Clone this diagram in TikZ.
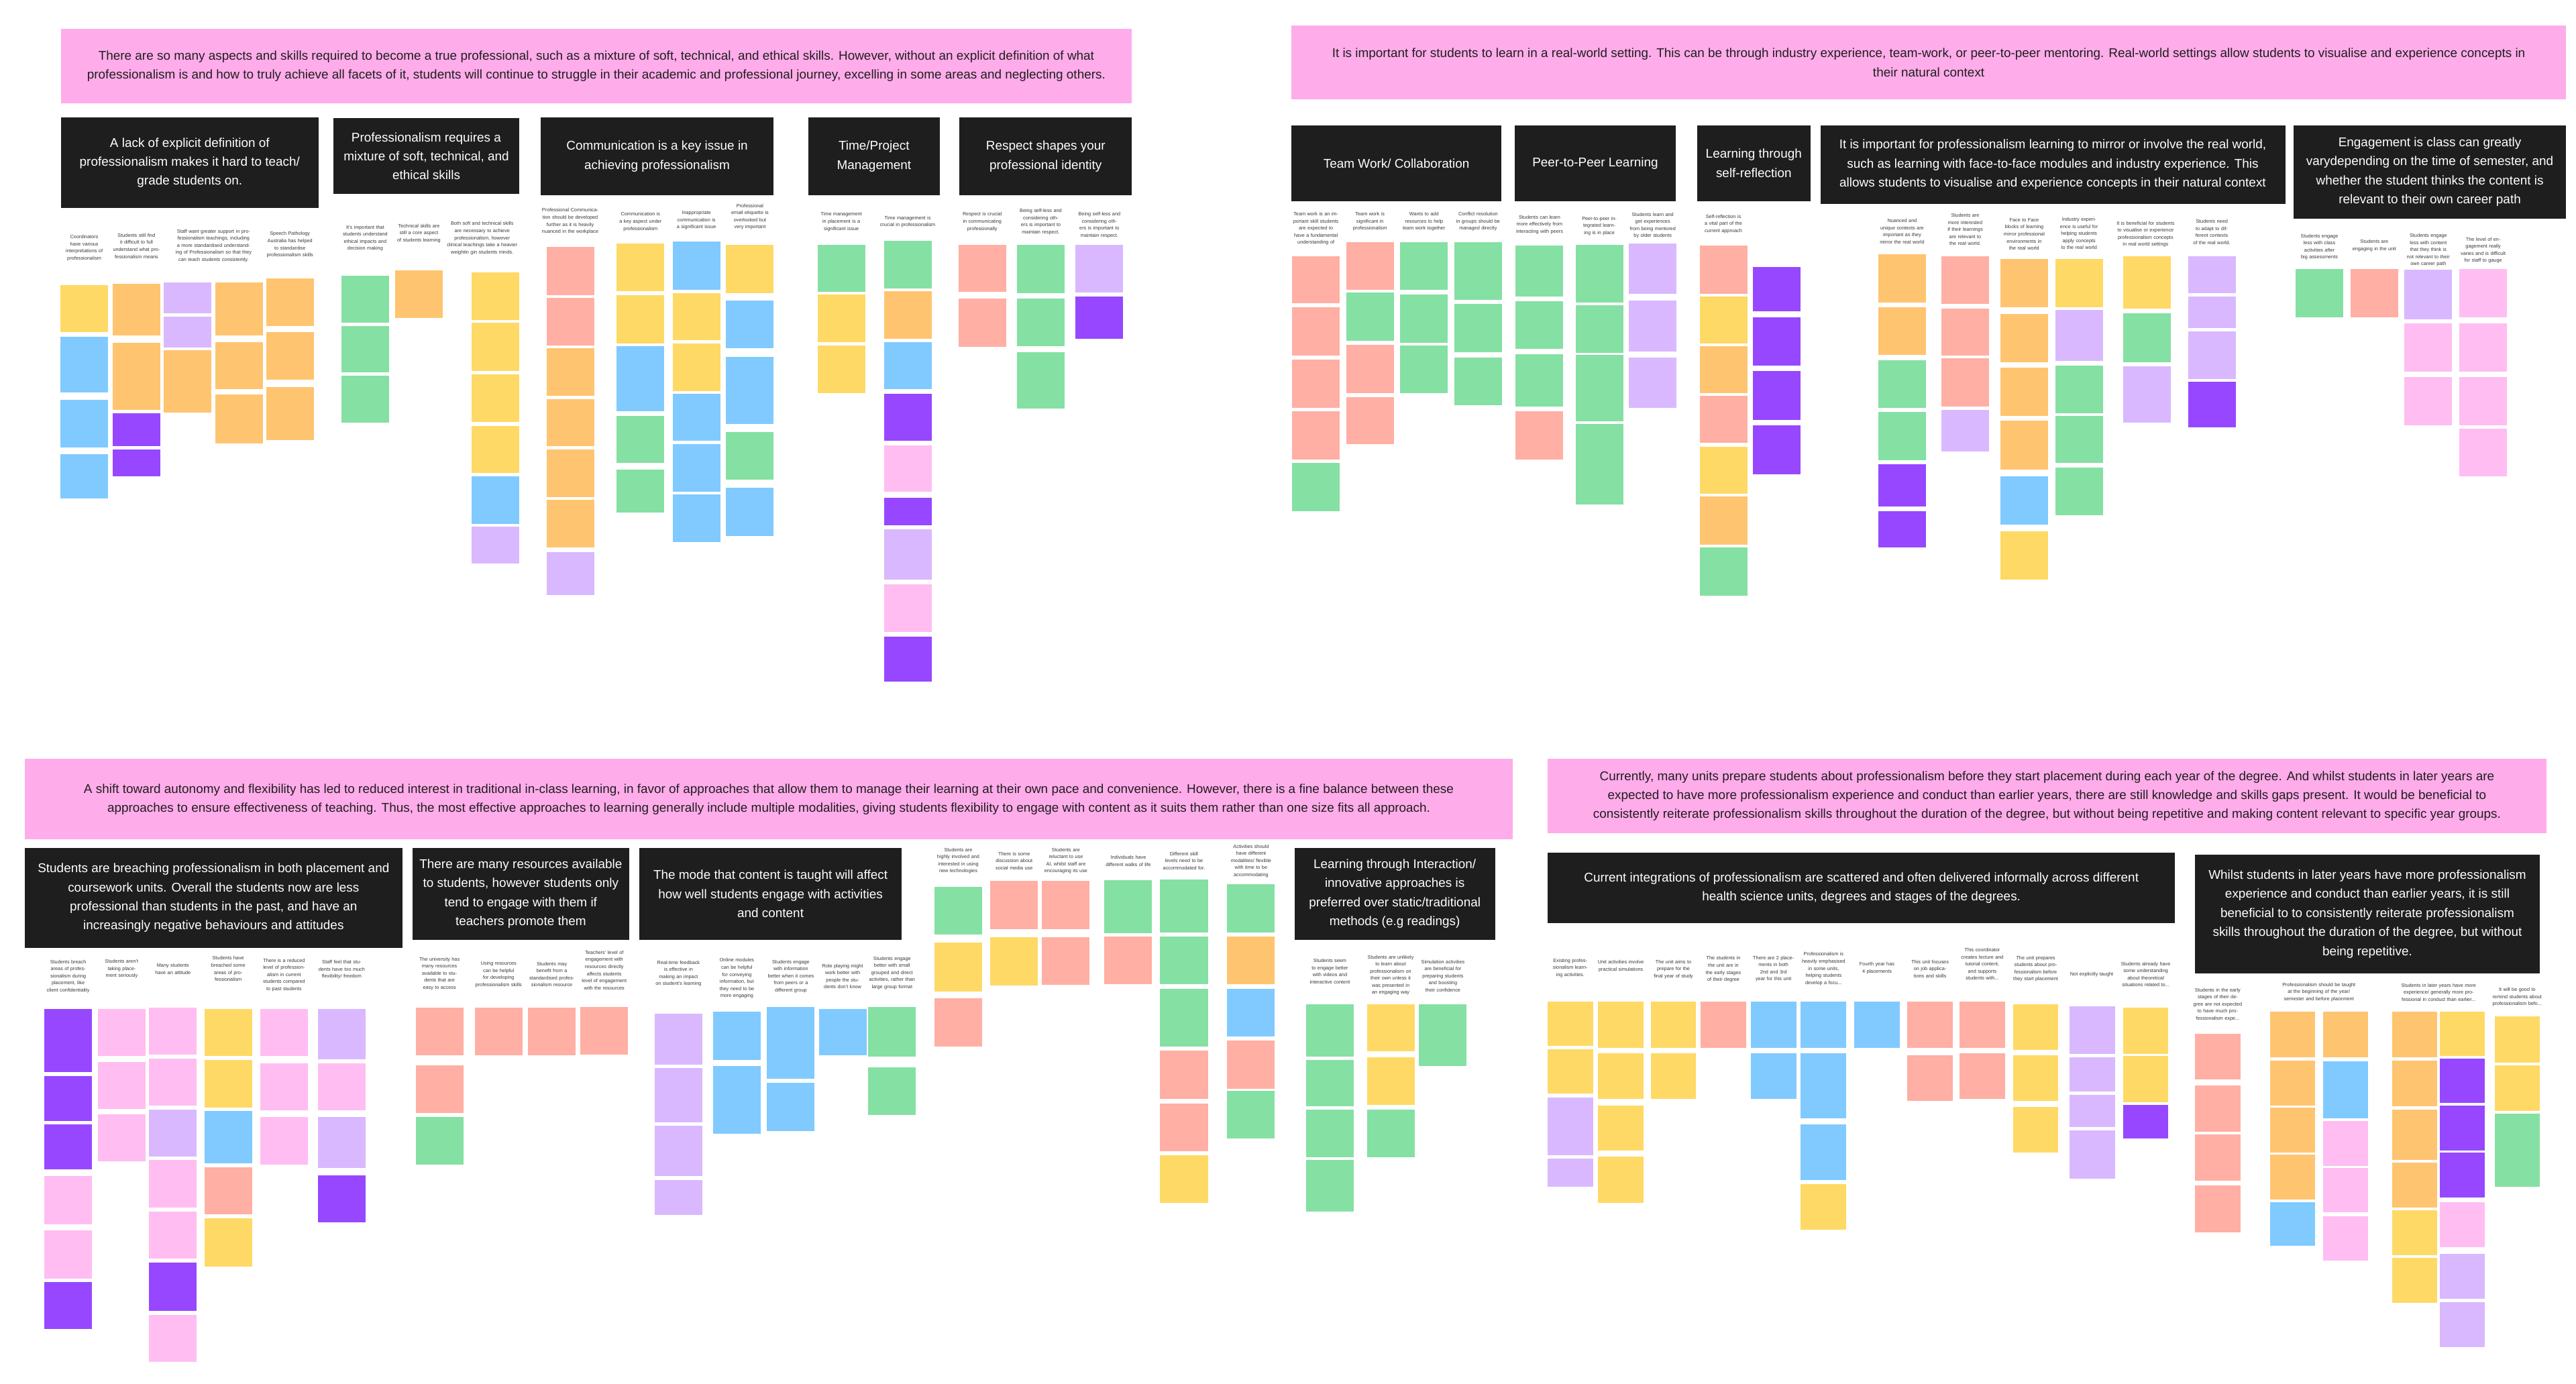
\documentclass[tikz,border=0pt]{standalone}
\usepackage{fontspec}
\setmainfont{Liberation Sans}

\definecolor{yel}{HTML}{FFD966}
\definecolor{ora}{HTML}{FFC470}
\definecolor{blu}{HTML}{80CAFF}
\definecolor{grn}{HTML}{85E0A3}
\definecolor{sal}{HTML}{FFAFA3}
\definecolor{lpu}{HTML}{D9B8FF}
\definecolor{pur}{HTML}{9747FF}
\definecolor{pnk}{HTML}{FFBDF2}
\definecolor{bannerpink}{HTML}{FFACEA}
\definecolor{headblack}{HTML}{1E1E1E}

\tikzset{
  banner/.style={fill=bannerpink, text=headblack, align=center, inner sep=0pt,
    font=\fontsize{4.4}{6.6}\selectfont},
  theme/.style={fill=headblack, text=white, align=center, inner sep=0pt,
    font=\fontsize{4.4}{6.6}\selectfont},
  lbl/.style={text=black!78, align=center, inner sep=0pt, text width=0.58cm,
    font=\fontsize{1.7}{2.45}\selectfont},
}

\begin{document}
\begin{tikzpicture}[x=0.02cm, y=-0.02cm]

	\useasboundingbox (0,0) rectangle (1568,842);
	\fill[white] (0,0) rectangle (1568,842);

	% top left: banner and themes
	\node[banner, minimum width=13.04cm, minimum height=0.908cm] (tlban) at (363,40.3)
	{There are so many aspects and skills required to become a true professional, such as a mixture of soft, technical, and ethical skills. However, without an explicit definition of what\\
	professionalism is and how to truly achieve all facets of it, students will continue to struggle in their academic and professional journey, excelling in some areas and neglecting others.};
	\node[theme, minimum width=3.14cm, minimum height=1.102cm] (tlh1) at (115.5,99.05)
	{A lack of explicit definition of\\ professionalism makes it hard to teach/\\ grade students on.};
	\node[theme, minimum width=2.26cm, minimum height=0.92cm] (tlh2) at (259.5,95)
	{Professionalism requires a\\ mixture of soft, technical, and\\ ethical skills};
	\node[theme, minimum width=2.84cm, minimum height=0.95cm] (tlh3) at (400,95.25)
	{Communication is a key issue in\\ achieving professionalism};
	\node[theme, minimum width=1.6cm, minimum height=0.95cm] (tlh4) at (532,95.25)
	{Time/Project\\ Management};
	\node[theme, minimum width=2.1cm, minimum height=0.95cm] (tlh5) at (636.5,95.25)
	{Respect shapes your\\ professional identity};

	% top left: cluster labels
	\node[lbl] (tla) at (51.3,151) {Coordinators have various interpretations of professionalism};
	\node[lbl] (tlb) at (83.1,149.7) {Students still find it difficult to full understand what professionalism means};
	\node[lbl, text width=1.12cm] (tlc) at (130,149.6) {Staff want greater support in professionalism teachings, including a more standardised understanding of Professionalism so that they can teach students consistently.};
	\node[lbl] (tle) at (176.5,149) {Speech Pathology Australia has helped to standardise professionalism skills};
	\node[lbl] (tlf) at (222.3,145) {It's important that students understand ethical impacts and decision making};
	\node[lbl] (tlg) at (255,142) {Technical skills are still a core aspect of students learning};
	\node[lbl, text width=0.88cm] (tlh) at (293.5,145) {Both soft and technical skills are necessary to achieve professionalism, however clinical teachings take a heavier weightin gin students minds.};
	\node[lbl, text width=0.8cm] (tli) at (347.1,134.7) {Professional Communication should be developed further as it is heavily nuanced in the workplace};
	\node[lbl] (tlj) at (389.9,135) {Communication is a key aspect under professionalism};
	\node[lbl] (tlk) at (423.9,134) {Inappropriate communication is a significant issue};
	\node[lbl] (tll) at (456.5,132) {Professional email etiquette is overlooked but very important};
	\node[lbl, text width=0.72cm] (tlm) at (512.1,135) {Time management in placement is a significant issue};
	\node[lbl, text width=0.68cm] (tln) at (552.5,135) {Time management is crucial in professionalism};
	\node[lbl] (tlo) at (597.9,135) {Respect is crucial in communicating professionally};
	\node[lbl, text width=0.64cm] (tlp) at (633.5,135) {Being self-less and considering others is important to maintain respect.};
	\node[lbl, text width=0.64cm] (tlq) at (669.2,137) {Being self-less and considering others is important to maintain respect.};

	% top left: stickies
	\foreach \x/\c/\ya/\yb in {
		36.8/yel/173.5/202.3, 36.8/blu/204.9/238.9, 36.8/blu/243.3/272.2, 36.8/blu/276.4/303.4,
		68.6/ora/172.9/204.3, 68.6/ora/208.7/249.5, 68.6/pur/251.4/271.6, 68.6/pur/273.5/289.9,
		99.6/lpu/172.1/190.8, 99.6/lpu/192.7/211.4, 99.6/ora/213.3/251.0,
		131/ora/172.1/204.3, 131/ora/208.1/237, 131/ora/239.9/269.7,
		162/ora/169.3/198.5, 162/ora/202.3/231.2, 162/ora/235.6/267.8,
		207.8/grn/167.7/196.6, 207.8/grn/198.3/226.8, 207.8/grn/228.5/257.2,
		240.5/ora/164.4/193.7,
		287.2/yel/165.8/194.7, 287.2/yel/196.6/226, 287.2/yel/227.7/256.8, 287.2/yel/259.1/288, 287.2/blu/289.9/318.7, 287.2/lpu/320.7/342.8,
		332.6/sal/150.4/179.6, 332.6/sal/181.2/210.4, 332.6/ora/212/240.8, 332.6/ora/242.8/271.6, 332.6/ora/273.5/302.4, 332.6/ora/304.3/333.2, 332.6/lpu/336/362,
		375.4/yel/148.1/177.3, 375.4/yel/179.8/209.1, 375.4/blu/210.6/250.4, 375.4/grn/253/281.8, 375.4/grn/285.7/312,
		409.4/blu/147.1/176.4, 409.4/yel/178.3/207.2, 409.4/yel/209.1/237.9, 409.4/blu/239.5/268.3, 409.4/blu/270.3/299.1, 409.4/blu/301.1/329.9,
		442/yel/148.9/178.3, 442/blu/183.1/212, 442/blu/217.2/258.1, 442/grn/262.9/291.8, 442/blu/297/326.1,
		497.6/grn/148.9/177.7, 497.6/yel/179.3/208.1, 497.6/yel/210.4/239.3,
		538/grn/146.5/175.4, 538/ora/177.3/206.2, 538/blu/208.1/237, 538/pur/239.5/268.3, 538/pnk/271.2/299.5, 538/pur/302.8/319.7, 538/lpu/322/352.8, 538/pnk/355.7/384.5, 538/pur/387.4/414.9,
		583.4/sal/148.9/177.7, 583.4/sal/181.8/211,
		619/grn/148.9/178.3, 619/grn/181.8/210.6, 619/grn/214.3/248.5,
		654.7/lpu/148.9/177.9, 654.7/pur/180.6/206.2}
	\fill[\c] (\x,\ya) rectangle (\x+29,\yb);

	% top right: banner and themes
	\node[banner, minimum width=15.52cm, minimum height=0.9cm] (trban) at (1174,38.1)
	{It is important for students to learn in a real-world setting. This can be through industry experience, team-work, or peer-to-peer mentoring. Real-world settings allow students to visualise and experience concepts in\\
	their natural context};
	\node[theme, minimum width=2.56cm, minimum height=0.926cm] (trh1) at (850,99.35)
	{Team Work/ Collaboration};
	\node[theme, minimum width=1.96cm, minimum height=0.926cm] (trh2) at (971,99.35)
	{Peer-to-Peer Learning};
	\node[theme, minimum width=1.38cm, minimum height=0.926cm] (trh3) at (1067.5,99.35)
	{Learning through\\ self-reflection};
	\node[theme, minimum width=5.66cm, minimum height=0.956cm] (trh4) at (1249.5,100.1)
	{It is important for professionalism learning to mirror or involve the real world,\\ such as learning with face-to-face modules and industry experience. This\\ allows students to visualise and experience concepts in their natural context};
	\node[theme, minimum width=3.32cm, minimum height=1.136cm] (trh5) at (1479,104.6)
	{Engagement is class can greatly\\ varydepending on the time of semester, and\\ whether the student thinks the content is\\ relevant to their own career path};

	% top right: cluster labels
	\node[lbl] (tr1) at (801,139.2) {Team work is an important skill students are expected to have a fundamental understanding of};
	\node[lbl] (tr2) at (833.9,134.8) {Team work is significant in professionalism};
	\node[lbl] (tr3) at (866.8,134.8) {Wants to add resources to help team work together};
	\node[lbl] (tr4) at (899.7,134.8) {Conflict resolution in groups should be managed directly};
	\node[lbl] (tr5) at (937.1,136.7) {Students can learn more effectively from interacting with peers};
	\node[lbl] (tr6) at (973.5,137.5) {Peer-to-peer integrated learning is in place};
	\node[lbl] (tr7) at (1006,137.2) {Students learn and get experiences from being mentored by older students};
	\node[lbl] (tr8) at (1049,136.4) {Self-reflection is a vital part of the current approach};
	\node[lbl] (tr10) at (1157.8,140.8) {Nuanced and unique contexts are important as they mirror the real world};
	\node[lbl] (tr11) at (1196.2,139.7) {Students are more interested if their learnings are relevant to the real world.};
	\node[lbl] (tr12) at (1232.1,142.5) {Face to Face blocks of learning mirror professional environments in the real world};
	\node[lbl] (tr13) at (1265.5,142.1) {Industry experience is useful for helping students apply concepts to the real world};
	\node[lbl, text width=0.76cm] (tr14) at (1306,142.5) {It is beneficial for students to visualise or experience professionalism concepts in real world settings};
	\node[lbl] (tr15) at (1346.3,141.3) {Students need to adapt to different contexts of the real world.};
	\node[lbl] (tr16) at (1411.8,150.3) {Students engage less with class activities after big assessments};
	\node[lbl] (tr17) at (1445.2,149.5) {Students are engaging in the unit};
	\node[lbl] (tr18) at (1478.1,152.3) {Students engage less with content that they think is not relevant to their own career path};
	\node[lbl] (tr19) at (1511.5,152.3) {The level of engagement really varies and is difficult for staff to gauge};

	% top right: stickies
	\foreach \x/\c/\ya/\yb in {
		786.5/sal/156/184.6, 786.5/sal/187.1/216.5, 786.5/sal/219/248.4, 786.5/sal/250.5/279.5, 786.5/grn/281.9/311.3,
		819.4/sal/147.4/176.5, 819.4/grn/178.1/207.5, 819.4/sal/210/239.4, 819.4/sal/241.9/270.5,
		852.3/grn/147.4/176.5, 852.3/grn/179.4/208.8, 852.3/grn/210.3/239.4,
		885.2/grn/147.4/182.5, 885.2/grn/185.1/214.5, 885.2/grn/217.7/246.8,
		922.6/grn/149.5/180.5, 922.6/grn/183.5/212.4, 922.6/grn/215.7/247.6, 922.6/sal/250.4/279.5,
		959/grn/149.2/184.2, 959/grn/185.6/214.9, 959/grn/216.2/256.6, 959/grn/258/306.9,
		991.5/lpu/148.2/178.9, 991.5/lpu/183/214.1, 991.5/lpu/217.8/248.4,
		1034.5/sal/149.5/178.9, 1034.5/yel/180.3/209.2, 1034.5/ora/210.6/239.4, 1034.5/sal/240.8/269.6, 1034.5/yel/271.8/300.7, 1034.5/ora/302.3/331.5, 1034.5/grn/333.1/362.5,
		1067/pur/162.6/189.5, 1067/pur/193.1/222.6, 1067/pur/226/255.8, 1067/pur/259/288.8,
		1143.3/ora/154.7/184.3, 1143.3/ora/187.1/216.2, 1143.3/grn/219.3/248.4, 1143.3/grn/250.8/280, 1143.3/pur/282.7/308.4, 1143.3/pur/311.3/333.1,
		1181.7/sal/156/185, 1181.7/sal/187.9/216.6, 1181.7/sal/218.1/247.6, 1181.7/lpu/249.5/274.6,
		1217.6/ora/157.7/187.1, 1217.6/ora/191.2/220.3, 1217.6/ora/223.9/253.3, 1217.6/ora/256.2/286, 1217.6/blu/290.1/319.5, 1217.6/yel/323.3/352.7,
		1251/yel/157.7/187.1, 1251/lpu/188.7/219.8, 1251/grn/222.6/251.7, 1251/grn/253.1/281.9, 1251/grn/284.4/313.5,
		1292.5/yel/156/187.9, 1292.5/grn/190.7/220.3, 1292.5/lpu/223.1/257.4,
		1332/lpu/156/178.6, 1332/lpu/180.5/199.7, 1332/lpu/201.8/230.9, 1332/pur/232.5/260.2,
		1397.3/grn/163.7/193.1,
		1430.7/sal/163.7/193.1,
		1463.6/lpu/164.2/194.4, 1463.6/pnk/196.9/226.3, 1463.6/pnk/229.6/259,
		1497/pnk/163.7/193.1, 1497/pnk/196.9/226.3, 1497/pnk/229.6/259, 1497/pnk/261.1/290.1}
	\fill[\c] (\x,\ya) rectangle (\x+29,\yb);

	% bottom left: banner and themes
	\node[banner, minimum width=18.12cm, minimum height=0.98cm] (blban) at (468,486.5)
	{A shift toward autonomy and flexibility has led to reduced interest in traditional in-class learning, in favor of approaches that allow them to manage their learning at their own pace and convenience. However, there is a fine balance between these\\
	approaches to ensure effectiveness of teaching. Thus, the most effective approaches to learning generally include multiple modalities, giving students flexibility to engage with content as it suits them rather than one size fits all approach.};
	\node[theme, minimum width=4.6cm, minimum height=1.22cm] (blh1) at (130,546.5)
	{Students are breaching professionalism in both placement and\\ coursework units. Overall the students now are less\\ professional than students in the past, and have an\\ increasingly negative behaviours and attitudes};
	\node[theme, minimum width=2.64cm, minimum height=1.12cm] (blh2) at (317,544)
	{There are many resources available\\ to students, however students only\\ tend to engage with them if\\ teachers promote them};
	\node[theme, minimum width=3.2cm, minimum height=1.12cm] (blh3) at (469,544)
	{The mode that content is taught will affect\\ how well students engage with activities\\ and content};
	\node[theme, minimum width=2.44cm, minimum height=1.12cm] (blh4) at (849,544)
	{Learning through Interaction/\\ innovative approaches is\\ preferred over static/traditional\\ methods (e.g readings)};

	% bottom left: cluster labels
	\node[lbl] (bla) at (41.5,594.3) {Students breach areas of professionalism during placement, like client confidentiality};
	\node[lbl] (blb) at (74.1,589.7) {Students aren't taking placement seriously};
	\node[lbl] (blc) at (105.3,589.7) {Many students have an attitude};
	\node[lbl] (bld) at (138.9,589.7) {Students have breached some areas of professionalism};
	\node[lbl] (ble) at (172.9,593.5) {There is a reduced level of professionalism in current students compared to past students};
	\node[lbl] (blf) at (208,590.2) {Staff feel that students have too much flexibility/ freedom};
	\node[lbl] (blg) at (267.5,592.6) {The university has many resources available to students that are easy to access};
	\node[lbl] (blh) at (303.5,593.1) {Using resources can be helpful for developing professionalism skills};
	\node[lbl] (bli) at (335.9,593.1) {Students may benefit from a standardised professionalism resource};
	\node[lbl] (blj) at (367.8,590.5) {Teachers' level of engagement with resources directly affects students level of engagement with the resources};
	\node[lbl] (blk) at (413,592.6) {Real-time feedback is effective in making an impact on student's learning};
	\node[lbl] (bll) at (448.5,595.5) {Online modules can be helpful for conveying information, but they need to be more engaging};
	\node[lbl] (blm) at (481.4,594.3) {Students engage with information better when it comes from peers or a different group};
	\node[lbl] (bln) at (512.9,594.3) {Role playing might work better with people the students don't know};
	\node[lbl] (blo) at (543,592.3) {Students engage better with small grouped and direct activities, rather than large group format};
	\node[lbl] (blp) at (583.3,524) {Students are highly involved and interested in using new technologies};
	\node[lbl] (blq) at (617.3,524) {There is some discussion about social media use};
	\node[lbl] (blr) at (648.8,524) {Students are reluctant to use AI, whilst staff are encouraging its use};
	\node[lbl] (bls) at (686.8,524) {Individuals have different walks of life};
	\node[lbl] (blt) at (720.7,524) {Different skill levels need to be accommodated for.};
	\node[lbl] (blu) at (761.5,524) {Activities should have different modalities/ flexible with time to be accommodating};
	\node[lbl] (blv) at (809.5,591.3) {Students seem to engage better with videos and interactive content};
	\node[lbl] (blw) at (846.5,593.5) {Students are unlikely to learn about professionalism on their own unless it was presented in an engaging way};
	\node[lbl] (blx) at (878.3,594) {Simulation activities are beneficial for preparing students and boosting their confidence};

	% bottom left: stickies
	\foreach \x/\c/\ya/\yb in {
		27/pur/614/652.6, 27/pur/654.8/682.2, 27/pur/684.4/711.8, 27/pnk/716/745.1, 27/pnk/749/778.1, 27/pur/780.3/808.9,
		59.6/pnk/614/642.8, 59.6/pnk/646.2/674.8, 59.6/pnk/678.2/707,
		90.8/pnk/613.2/641.9, 90.8/pnk/644.2/672.8, 90.8/lpu/675.3/703.9, 90.8/pnk/706.2/735, 90.8/pnk/737.3/766.1, 90.8/pur/768.4/797.8, 90.8/pnk/800.4/829,
		124.4/yel/614/642.8, 124.4/yel/645/674, 124.4/blu/676.2/708.2, 124.4/sal/710.5/739.2, 124.4/yel/741.6/770.9,
		158.4/pnk/614/642.8, 158.4/pnk/647.1/675.9, 158.4/pnk/680/708.7,
		193.5/lpu/614/644.8, 193.5/pnk/647.1/675.9, 193.5/lpu/680/710.8, 193.5/pur/715.2/743.9,
		253/sal/613.3/642.4, 253/sal/648.4/677.6, 253/grn/680/708.7,
		289/sal/613.3/642.4,
		321.4/sal/613.3/642.4,
		353.3/sal/612.8/641.9,
		398.5/lpu/617.1/647.9, 398.5/lpu/650.2/683, 398.5/lpu/685.3/715.6, 398.5/lpu/718.2/739.6,
		434/blu/615.9/645, 434/blu/648.8/689.9,
		466.9/blu/612.8/656.5, 466.9/blu/659.1/688.5,
		498.4/blu/614/642.3,
		528.5/grn/612.8/643.3, 528.5/grn/649.6/678.8,
		568.8/grn/539.8/568.9, 568.8/yel/573.9/603.4, 568.8/sal/607.6/637,
		602.8/sal/536.2/565.5, 602.8/yel/570.3/599.9,
		634.3/sal/536.2/565.5, 634.3/sal/570.3/599.5,
		672.3/grn/535.8/567.9, 672.3/sal/569.9/599,
		706.2/grn/535.4/567.5, 706.2/grn/569.9/599, 706.2/grn/602/637, 706.2/sal/639.4/668.7, 706.2/sal/671.5/700.7, 706.2/yel/703.2/732.2,
		747/grn/538.2/567.5, 747/ora/569.9/599, 747/blu/602/631, 747/sal/633.4/662.7, 747/grn/664.1/693.1,
		795/grn/611.4/643, 795/grn/645/673.5, 795/grn/675.5/704.2, 795/grn/705.8/737.6,
		832/yel/611.4/640, 832/yel/643.4/672.5, 832/grn/675.5/704.2,
		863.8/grn/611.4/649}
	\fill[\c] (\x,\ya) rectangle (\x+29,\yb);

	% bottom right: banner and themes
	\node[banner, minimum width=12.16cm, minimum height=0.9cm] (brban) at (1246,484.5)
	{Currently, many units prepare students about professionalism before they start placement during each year of the degree. And whilst students in later years are\\
	expected to have more professionalism experience and conduct than earlier years, there are still knowledge and skills gaps present. It would be beneficial to\\
	consistently reiterate professionalism skills throughout the duration of the degree, but without being repetitive and making content relevant to specific year groups.};
	\node[theme, minimum width=7.64cm, minimum height=0.86cm] (brh1) at (1133,540.5)
	{Current integrations of professionalism are scattered and often delivered informally across different\\ health science units, degrees and stages of the degrees.};
	\node[theme, minimum width=4.2cm, minimum height=1.452cm] (brh2) at (1441,556.3)
	{Whilst students in later years have more professionalism\\ experience and conduct than earlier years, it is still\\ beneficial to to consistently reiterate professionalism\\ skills throughout the duration of the degree, but without\\ being repetitive.};

	% bottom right: cluster labels
	\node[lbl] (br1) at (955.8,589.2) {Existing professionalism learning activities.};
	\node[lbl] (br2) at (986.6,588) {Unit activities involve practical simulations};
	\node[lbl] (br3) at (1018.6,590) {The unit aims to prepare for the final year of study};
	\node[lbl] (br4) at (1049,590) {The students in the unit are in the early stages of their degree};
	\node[lbl] (br5) at (1079.5,589.7) {There are 2 placements in both 2nd and 3rd year for this unit};
	\node[lbl] (br6) at (1110,589.7) {Professionalism is heavily emphasised in some units, helping students develop a focu...};
	\node[lbl] (br7) at (1142.5,589.2) {Fourth year has 4 placements};
	\node[lbl] (br8) at (1174.8,589.7) {This unit focuses on job applications and skills};
	\node[lbl] (br9) at (1206.6,586.8) {This coordinator creates lecture and tutorial content, and supports students with...};
	\node[lbl] (br10) at (1239.1,589.7) {The unit prepares students about professionalism before they start placement};
	\node[lbl] (br11) at (1273.2,593.1) {Not explicitly taught};
	\node[lbl, text width=0.66cm] (br12) at (1306.1,593.1) {Students already have some understanding about theoretical situations related to...};
	\node[lbl, text width=0.66cm] (br13) at (1349.9,611.4) {Students in the early stages of their degree are not expected to have much professionalism expe...};
	\node[lbl, text width=1.2cm] (br14) at (1411.5,603.9) {Professionalism should be taught at the beginning of the year/ semester and before placement};
	\node[lbl, text width=1.15cm] (br16) at (1484.4,603.9) {Students in later years have more experience/ generally more professional in conduct than earlier...};
	\node[lbl, text width=0.66cm] (br18) at (1532.2,607) {It will be good to remind students about professionalism befo...};

	% bottom right: stickies
	\foreach \x/\c/\ya/\yb in {
		942/yel/609.7/636.5, 942/yel/638.5/665.6, 942/lpu/668/703.3, 942/lpu/705.3/722.4,
		972.8/yel/609.7/637.7, 972.8/yel/641.1/669, 972.8/yel/672.8/700.2, 972.8/yel/704.1/732.2,
		1004.8/yel/609.7/637.7, 1004.8/yel/641.1/669,
		1035.3/sal/609.7/637.7,
		1065.7/blu/609.7/637.7, 1065.7/blu/641.1/669,
		1096/blu/609.7/637.7, 1096/blu/641.1/680.5, 1096/blu/684.4/718.2, 1096/yel/720.7/748.5,
		1128.7/blu/609.7/637.7,
		1161/sal/609.7/637.7, 1161/sal/642.3/670.2,
		1192.8/sal/609.7/637.7, 1192.8/sal/641.1/669,
		1225.3/yel/611.1/639, 1225.3/yel/642.3/670.2, 1225.3/yel/673.6/701.4,
		1259.8/lpu/612.3/641.6, 1259.8/lpu/643.6/664.2, 1259.8/lpu/666.3/686.1, 1259.8/lpu/688.2/717.3,
		1292.3/yel/613.3/641.4, 1292.3/yel/642.8/670.7, 1292.3/pur/672.4/693,
		1336.1/sal/629.1/657, 1336.1/sal/660.8/688.7, 1336.1/sal/690.4/718.5, 1336.1/sal/721.6/749.9,
		1381.6/ora/615.9/643.6, 1381.6/ora/645.4/672.8, 1381.6/ora/674.1/701.4, 1381.6/ora/702.9/730.2, 1381.6/blu/731.9/758.4,
		1414/ora/615.9/643.6, 1414/blu/645.9/680.8, 1414/pnk/682.2/709.6, 1414/pnk/711/737.9, 1414/pnk/740.1/767.3,
		1456/ora/615.9/643.6, 1456/ora/645.7/673.3, 1456/ora/675.3/705.8, 1456/ora/707.5/735, 1456/yel/736.7/764.1, 1456/yel/765.5/793,
		1485/yel/615.9/642.8, 1485/pur/644.2/671.1, 1485/pur/672.8/700.2, 1485/pur/701.6/729, 1485/pnk/731.9/758.9, 1485/lpu/763.2/790.6, 1485/lpu/792.7/820.1,
		1518.4/yel/618.8/646.6, 1518.4/yel/648.3/676.2, 1518.4/grn/677.9/722.4}
	\fill[\c] (\x,\ya) rectangle (\x+27.6,\yb);

\end{tikzpicture}
\end{document}
